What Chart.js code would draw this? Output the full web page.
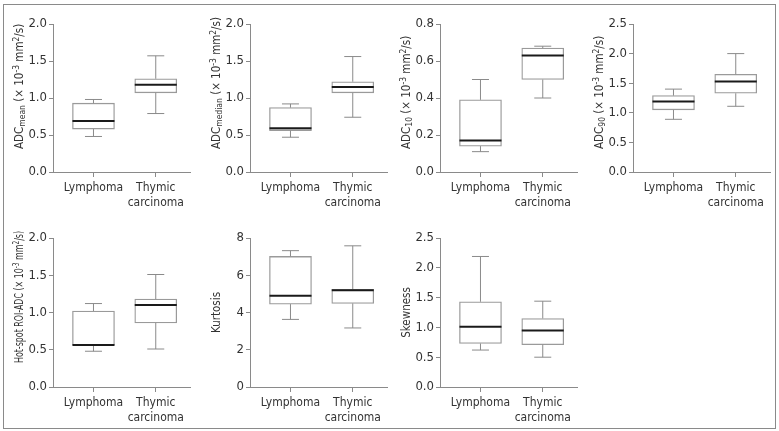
<!DOCTYPE html>
<html>
<head>
<meta charset="utf-8">
<script src="https://cdn.jsdelivr.net/npm/chart.js@4/dist/chart.umd.min.js"></script>
<style>
  body { margin: 0; background: #fff; }
  #wrap { position: relative; width: 779px; height: 431px; }
  #frame { position: absolute; left: 3px; top: 4px; width: 773px; height: 425px; box-sizing: border-box; border: 1px solid #8a8a8a; }
  canvas { position: absolute; }
</style>
</head>
<body>
<div id="wrap"><div id="frame"></div></div>
<script>
// categories on the x axis of every panel
const categories = ["Lymphoma", ["Thymic", "carcinoma"]];

// box stats: [min, q1, median, q3, max]
const adcMeanLymphoma = [0.48, 0.58, 0.69, 0.93, 0.98];
const adcMeanThymic = [0.79, 1.07, 1.18, 1.26, 1.57];
const adcMedianLymphoma = [0.47, 0.56, 0.59, 0.87, 0.92];
const adcMedianThymic = [0.74, 1.07, 1.15, 1.22, 1.56];
const adc10Lymphoma = [0.11, 0.14, 0.17, 0.39, 0.50];
const adc10Thymic = [0.40, 0.50, 0.63, 0.67, 0.68];
const adc90Lymphoma = [0.89, 1.05, 1.19, 1.29, 1.40];
const adc90Thymic = [1.11, 1.33, 1.53, 1.65, 2.00];
const hotSpotLymphoma = [0.48, 0.56, 0.565, 1.02, 1.12];
const hotSpotThymic = [0.51, 0.86, 1.10, 1.18, 1.51];
const kurtosisLymphoma = [3.63, 4.45, 4.90, 7.01, 7.32];
const kurtosisThymic = [3.17, 4.49, 5.19, 5.24, 7.58];
const skewnessLymphoma = [0.62, 0.73, 1.01, 1.43, 2.19];
const skewnessThymic = [0.50, 0.71, 0.95, 1.15, 1.44];

// y axis ranges
const yMax = [2, 2, 0.8, 2.5, 2, 8, 2.5];
const yStep = [0.5, 0.5, 0.2, 0.5, 0.5, 2, 0.5];
const yDigits = [1, 1, 1, 1, 1, 0, 1];

// axis titles as [text, kind] pieces (kind: n / sub / sup)
const unitPart = [[" (\u00d7 10", "n"], ["-3", "sup"], [" mm", "n"], ["2", "sup"], ["/s)", "n"]];
const titles = [
  [["ADC", "n"], ["mean", "sub"]].concat(unitPart),
  [["ADC", "n"], ["median", "sub"]].concat(unitPart),
  [["ADC", "n"], ["10", "sub"]].concat(unitPart),
  [["ADC", "n"], ["90", "sub"]].concat(unitPart),
  [["Hot-spot ROI-ADC", "n"]].concat(unitPart),
  [["Kurtosis", "n"]],
  [["Skewness", "n"]]
];

const groups = [
  [adcMeanLymphoma, adcMeanThymic],
  [adcMedianLymphoma, adcMedianThymic],
  [adc10Lymphoma, adc10Thymic],
  [adc90Lymphoma, adc90Thymic],
  [hotSpotLymphoma, hotSpotThymic],
  [kurtosisLymphoma, kurtosisThymic],
  [skewnessLymphoma, skewnessThymic]
];

// where each panel sits on the page
const colLeft = [5, 202, 392, 585];
const colAxis = [53, 250, 440, 633];
const colRight = [190, 387, 577, 770];
const rowTop = [8, 222];
const rowAreaTop = [24, 238];
const rowAreaBottom = [172, 387];
const canvasW = 190, canvasH = 202;

const FONT = "'DejaVu Sans Condensed', 'DejaVu Sans', sans-serif";
const TEXT = "#333";
const AXIS = "#8a8a8a";

const boxPlugin = {
  id: "boxExtras",
  afterDatasetsDraw(chart) {
    const ctx = chart.ctx;
    const xs = chart.scales.x, ys = chart.scales.y;
    const stats = chart.options.plugins.boxExtras.stats;
    ctx.save();
    stats.forEach((s, i) => {
      const x = xs.getPixelForValue(i);
      const cap = 8.5, half = 21;
      ctx.strokeStyle = "#8a8a8a";
      ctx.lineWidth = 1;
      ctx.beginPath();
      ctx.moveTo(x, ys.getPixelForValue(s[3]));
      ctx.lineTo(x, ys.getPixelForValue(s[4]));
      ctx.moveTo(x - cap, ys.getPixelForValue(s[4]));
      ctx.lineTo(x + cap, ys.getPixelForValue(s[4]));
      ctx.moveTo(x, ys.getPixelForValue(s[1]));
      ctx.lineTo(x, ys.getPixelForValue(s[0]));
      ctx.moveTo(x - cap, ys.getPixelForValue(s[0]));
      ctx.lineTo(x + cap, ys.getPixelForValue(s[0]));
      ctx.stroke();
      ctx.strokeStyle = "#1a1a1a";
      ctx.lineWidth = 2;
      ctx.beginPath();
      const my = ys.getPixelForValue(s[2]);
      ctx.moveTo(x - half, my);
      ctx.lineTo(x + half, my);
      ctx.stroke();
    });

    // rotated y title with sub/superscripts, squeezed if too long
    const pieces = chart.options.plugins.boxExtras.title;
    const fontFor = k => (k === "n" ? "11.5px " : "8.5px ") + FONT;
    let len = 0;
    pieces.forEach(p => { ctx.font = fontFor(p[1]); len += ctx.measureText(p[0]).width; });
    const maxLen = 132;
    const squeeze = Math.min(1, maxLen / len);
    const shown = len * squeeze;
    const area = chart.chartArea;
    const cx = area.left - 33;
    const cy = (area.top + area.bottom) / 2;
    const startY = Math.min(cy + shown / 2, area.top + 125);
    ctx.translate(cx, startY);
    ctx.rotate(-Math.PI / 2);
    ctx.scale(squeeze, 1);
    ctx.fillStyle = TEXT;
    ctx.textBaseline = "middle";
    let pos = 0;
    pieces.forEach(p => {
      ctx.font = fontFor(p[1]);
      const dy = p[1] === "sub" ? 3 : (p[1] === "sup" ? -3.5 : 0);
      ctx.fillText(p[0], pos, dy);
      pos += ctx.measureText(p[0]).width;
    });
    ctx.restore();
  }
};

const wrap = document.getElementById("wrap");

groups.forEach((pair, k) => {
  const row = k < 4 ? 0 : 1;
  const col = k % 4;
  const canvas = document.createElement("canvas");
  canvas.width = canvasW;
  canvas.height = canvasH;
  canvas.style.left = colLeft[col] + "px";
  canvas.style.top = rowTop[row] + "px";
  wrap.appendChild(canvas);

  const xHeight = rowTop[row] + canvasH - rowAreaBottom[row];

  new Chart(canvas.getContext("2d"), {
    type: "bar",
    data: {
      datasets: [{
        data: pair.map((s, i) => ({ x: i, y: [s[1], s[3]] })),
        backgroundColor: "#ffffff",
        borderColor: "#9a9a9a",
        borderWidth: 1.3,
        borderSkipped: false,
        barThickness: 42
      }]
    },
    options: {
      responsive: false,
      animation: false,
      layout: {
        padding: {
          left: 0,
          top: rowAreaTop[row] - rowTop[row],
          right: colLeft[col] + canvasW - colRight[col],
          bottom: 0
        }
      },
      plugins: {
        legend: { display: false },
        tooltip: { enabled: false },
        boxExtras: { stats: pair, title: titles[k] }
      },
      scales: {
        x: {
          type: "linear",
          min: -0.65,
          max: 1.55,
          offset: false,
          afterBuildTicks: s => { s.ticks = [{ value: 0 }, { value: 1 }]; },
          afterFit: s => { s.height = xHeight; },
          grid: { display: true, drawOnChartArea: false, drawTicks: true, tickLength: 5, color: AXIS, offset: false },
          border: { display: true, color: AXIS },
          ticks: {
            color: TEXT,
            padding: 4,
            maxRotation: 0,
            font: { family: FONT, size: 12, lineHeight: 1.2 },
            callback: v => categories[v]
          }
        },
        y: {
          min: 0,
          max: yMax[k],
          afterFit: s => { s.width = colAxis[col] - colLeft[col]; },
          grid: { display: true, drawOnChartArea: false, drawTicks: true, tickLength: 4, color: AXIS },
          border: { display: true, color: AXIS },
          ticks: {
            stepSize: yStep[k],
            color: TEXT,
            padding: 2,
            font: { family: FONT, size: 13 },
            callback: v => Number(v).toFixed(yDigits[k])
          }
        }
      }
    },
    plugins: [boxPlugin]
  });
});
</script>
</body>
</html>
